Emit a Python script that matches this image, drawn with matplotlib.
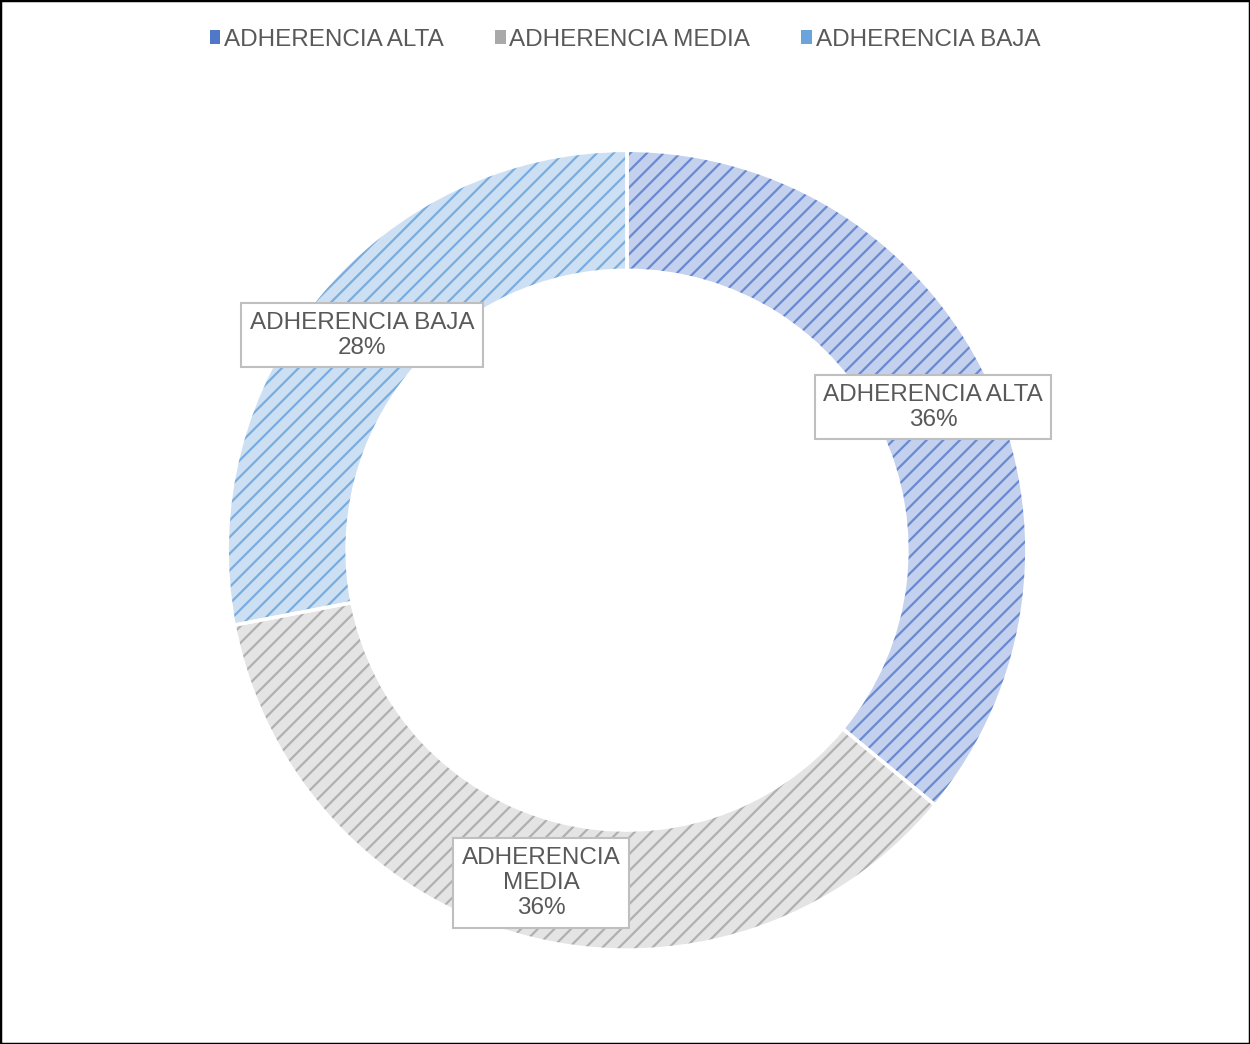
import matplotlib
matplotlib.use("Agg")
from matplotlib import pyplot as plt
from matplotlib.patches import Patch, Rectangle

plt.rcParams['font.family'] = ['Liberation Sans', 'DejaVu Sans']
plt.rcParams['hatch.linewidth'] = 1.6

categories = ["ADHERENCIA ALTA", "ADHERENCIA MEDIA", "ADHERENCIA BAJA"]
values = [36, 36, 28]
pct_labels = ["36%", "36%", "28%"]

face_colors = ["#c3d1ee", "#e4e4e4", "#cde0f3"]
hatch_colors = ["#6a8ad0", "#b0b0b0", "#7aaddf"]
legend_colors = ["#4f78c8", "#a9a9a9", "#6aa4da"]
text_color = "#595959"

fig = plt.figure(figsize=(12.5, 10.44), dpi=100)
ax = fig.add_axes([0.1816, 0.090, 0.64, 0.766])

ring = dict(width=0.3)
# base fill
ax.pie(values, startangle=90, counterclock=False, radius=1,
       colors=face_colors, wedgeprops=dict(ring, linewidth=0))
# texture
w2, _ = ax.pie(values, startangle=90, counterclock=False, radius=1,
               wedgeprops=dict(ring, linewidth=0))
for w, hc in zip(w2, hatch_colors):
    w.set_facecolor("none")
    w.set_edgecolor(hc)
    w.set_hatch("//")
    w.set_linewidth(0)
# white separators
ax.pie(values, startangle=90, counterclock=False, radius=1,
       wedgeprops=dict(ring, facecolor="none", edgecolor="white", linewidth=2.5))
ax.set_xlim(-1.0, 1.0)
ax.set_ylim(-1.0, 1.0)
ax.set_aspect("equal")
ax.axis("off")

label_pos = [(0.765, 0.3575), (-0.215, -0.8325), (-0.6625, 0.5375)]
label_txt = [f"{categories[0]}\n{pct_labels[0]}",
             f"ADHERENCIA\nMEDIA\n{pct_labels[1]}",
             f"{categories[2]}\n{pct_labels[2]}"]
for (x, y), t in zip(label_pos, label_txt):
    ax.text(x, y, t, ha="center", va="center", fontsize=17.5, color=text_color,
            linespacing=1.2,
            bbox=dict(boxstyle="square,pad=0.35", facecolor="white",
                      edgecolor="#bfbfbf", linewidth=1.5))

handles = [Patch(facecolor=c, edgecolor="none") for c in legend_colors]
fig.legend(handles, categories, loc="center", bbox_to_anchor=(0.5, 0.962),
           ncol=3, frameon=False, fontsize=17.5, labelcolor=text_color,
           handlelength=0.45, handleheight=0.45, handletextpad=0.15,
           columnspacing=2.1)

fig.add_artist(Rectangle((0, 0), 1, 1, transform=fig.transFigure,
                         fill=False, edgecolor="black", linewidth=2.5))

plt.savefig("out.png", dpi=100)
